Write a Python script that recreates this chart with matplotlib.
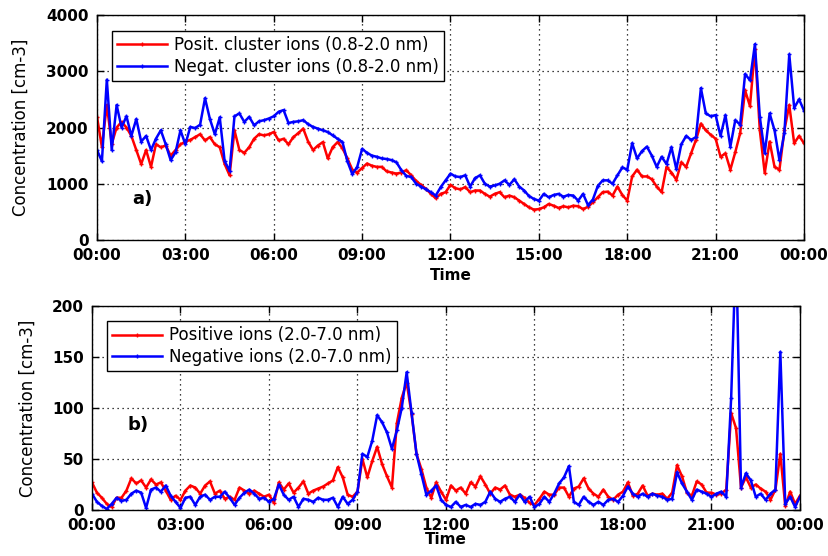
import matplotlib.pyplot as plt
import numpy as np

# 10-minute samples, 00:00 .. 24:00 (one row per hour, last value = 24:00)
hours = np.arange(0, 24 + 1e-9, 1 / 6)

pos_cluster = [
    2190, 1650, 2400, 1710, 2000, 2100,
    2000, 1850, 1600, 1350, 1600, 1300,
    1700, 1650, 1680, 1500, 1600, 1700,
    1750, 1780, 1830, 1880, 1770, 1830,
    1700, 1650, 1350, 1150, 1950, 1600,
    1550, 1650, 1800, 1880, 1860, 1880,
    1920, 1770, 1800, 1700, 1830, 1900,
    1980, 1750, 1600, 1680, 1740, 1450,
    1650, 1740, 1630, 1450, 1250, 1200,
    1280, 1360, 1320, 1300, 1300, 1220,
    1200, 1180, 1200, 1240, 1150, 1050,
    980, 910, 820, 740, 820, 850,
    980, 920, 900, 940, 850, 880,
    880, 820, 770, 820, 850, 760,
    790, 760, 700, 640, 580, 540,
    550, 580, 640, 610, 570, 600,
    580, 610, 600, 550, 590, 670,
    760, 850, 860, 790, 950, 800,
    700, 1130, 1250, 1130, 1130, 1080,
    950, 850, 1300, 1200, 1070, 1380,
    1300, 1540, 1780, 2070, 1950, 1870,
    1800, 1480, 1540, 1250, 1560, 1900,
    2660, 2380, 3400, 1950, 1190, 1750,
    1300, 1250, 1950, 2400, 1720, 1850,
    1720,
]

neg_cluster = [
    1600, 1400, 2850, 1600, 2400, 2000,
    2200, 1850, 2150, 1750, 1850, 1600,
    1800, 1950, 1700, 1420, 1560, 1950,
    1700, 2010, 1990, 2050, 2520, 2150,
    1880, 2180, 1400, 1230, 2200, 2250,
    2100, 2190, 2040, 2110, 2130, 2160,
    2200, 2280, 2310, 2080, 2100, 2110,
    2130, 2060, 2010, 1980, 1950, 1920,
    1860, 1800, 1740, 1400, 1170, 1300,
    1620, 1550, 1500, 1480, 1450, 1440,
    1420, 1380, 1240, 1140, 1120, 1000,
    950, 900, 850, 790, 940, 1060,
    1180, 1130, 1120, 1150, 950, 1100,
    1150, 1000, 950, 970, 1000, 1060,
    980, 1080, 950, 880, 780, 730,
    700, 820, 760, 800, 820, 770,
    800, 790, 700, 820, 620, 720,
    960, 1060, 1060, 1000, 1150, 1290,
    1250, 1720, 1450, 1580, 1660, 1500,
    1300, 1480, 1350, 1650, 1260, 1700,
    1850, 1780, 1830, 2700, 2250, 2200,
    2220, 1850, 2220, 1660, 2130, 2050,
    2950, 2840, 3480, 2190, 1540, 2250,
    1950, 1420, 1900, 3300, 2350, 2500,
    2300,
]

pos_ions = [
    27, 17, 12, 6, 3, 12,
    12, 19, 31, 26, 29, 22,
    30, 25, 27, 19, 10, 14,
    10, 19, 24, 22, 16, 24,
    28, 16, 19, 11, 13, 10,
    22, 19, 16, 19, 16, 13,
    15, 7, 27, 20, 26, 17,
    22, 28, 16, 19, 21, 23,
    26, 29, 42, 32, 15, 13,
    18, 50, 32, 48, 62, 45,
    33, 22, 85, 110, 125, 94,
    55, 40, 22, 12, 27, 18,
    10, 24, 19, 22, 16, 27,
    23, 33, 25, 16, 22, 20,
    24, 15, 13, 15, 12, 7,
    5, 11, 18, 15, 15, 22,
    22, 13, 21, 23, 31, 21,
    16, 13, 20, 13, 10, 15,
    18, 27, 14, 16, 24, 14,
    16, 15, 16, 11, 17, 44,
    33, 17, 14, 28, 25, 17,
    17, 15, 16, 20, 95, 80,
    22, 32, 22, 25, 21, 18,
    10, 20, 55, 4, 18, 6,
    14,
]

neg_ions = [
    16, 8, 4, 1, 6, 12,
    9, 10, 16, 19, 17, 2,
    20, 22, 18, 24, 14, 8,
    2, 12, 13, 5, 13, 15,
    10, 13, 13, 18, 12, 5,
    12, 17, 20, 16, 11, 12,
    8, 11, 25, 15, 10, 13,
    3, 11, 10, 8, 12, 10,
    10, 12, 3, 13, 6, 10,
    18, 55, 52, 68, 93, 86,
    76, 60, 78, 100, 135, 95,
    55, 35, 15, 19, 24, 10,
    5, 3, 8, 3, 5, 3,
    6, 5, 8, 18, 11, 8,
    11, 13, 8, 15, 8, 13,
    3, 6, 13, 8, 16, 26,
    32, 43, 8, 5, 13, 8,
    5, 8, 5, 10, 11, 8,
    14, 23, 16, 13, 16, 13,
    16, 14, 13, 10, 11, 37,
    26, 18, 10, 20, 18, 16,
    13, 16, 18, 13, 110, 260,
    22, 36, 29, 13, 16, 10,
    16, 20, 155, 6, 13, 3,
    13,
]

xtick_pos = [0, 3, 6, 9, 12, 15, 18, 21, 24]
xtick_labels = ["00:00", "03:00", "06:00", "09:00", "12:00", "15:00", "18:00", "21:00", "00:00"]

W, H = 829, 556
fig = plt.figure(figsize=(W / 100, H / 100), dpi=100)
ax1 = fig.add_axes([97 / W, 1 - 240 / H, 707 / W, 225 / H])
ax2 = fig.add_axes([92 / W, 1 - 510 / H, 708 / W, 204 / H])

style = dict(lw=1.8, marker='+', ms=3.5, mew=1.0)

ax1.plot(hours, pos_cluster, color='red', label='Posit. cluster ions (0.8-2.0 nm)', **style)
ax1.plot(hours, neg_cluster, color='blue', label='Negat. cluster ions (0.8-2.0 nm)', **style)
ax1.set_ylim(0, 4000)
ax1.set_yticks([0, 1000, 2000, 3000, 4000])

ax2.plot(hours, pos_ions, color='red', label='Positive ions (2.0-7.0 nm)', **style)
ax2.plot(hours, neg_ions, color='blue', label='Negative ions (2.0-7.0 nm)', **style)
ax2.set_ylim(0, 200)
ax2.set_yticks([0, 50, 100, 150, 200])

for ax, tag, tag_y, ylab_x, xlab_y in [(ax1, 'a)', 0.16, -0.095, -0.125),
                                         (ax2, 'b)', 0.39, -0.078, -0.108)]:
    ax.set_xlim(0, 24)
    ax.set_xticks(xtick_pos)
    ax.set_xticklabels(xtick_labels)
    ax.grid(True, color='black', linestyle=(0, (1, 3)), linewidth=0.9)
    ax.tick_params(direction='in', top=True, right=True, length=5, width=1,
                   labelsize=11, pad=6)
    for lab in ax.get_xticklabels() + ax.get_yticklabels():
        lab.set_fontweight('bold')
    for s in ax.spines.values():
        s.set_linewidth(1.0)
    ax.set_ylabel('Concentration [cm-3]', fontsize=12)
    ax.yaxis.set_label_coords(ylab_x, 0.5)
    ax.set_xlabel('Time', fontsize=11, fontweight='bold')
    ax.xaxis.set_label_coords(0.5, xlab_y)
    ax.text(0.05, tag_y, tag, transform=ax.transAxes, fontsize=13, fontweight='bold')
    leg = ax.legend(loc='upper left', bbox_to_anchor=(0.01, 0.965), fontsize=12,
                    handlelength=3.0, fancybox=False, edgecolor='black',
                    framealpha=1, borderpad=0.3, labelspacing=0.2, handletextpad=0.4)
    leg.get_frame().set_linewidth(1.0)

fig.savefig('out.png', dpi=100)
